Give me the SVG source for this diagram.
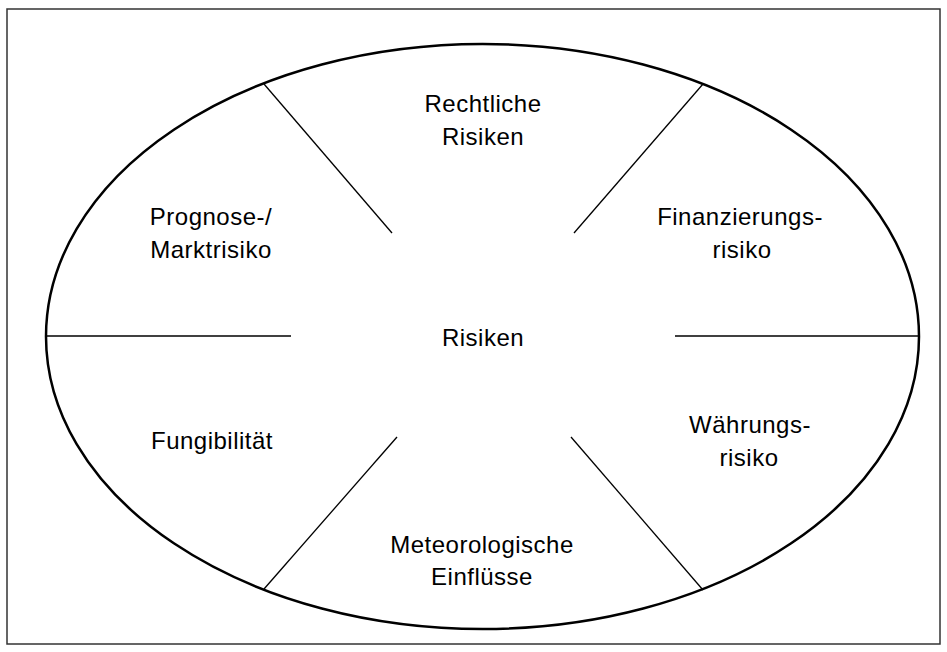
<svg xmlns="http://www.w3.org/2000/svg" width="947" height="652" viewBox="0 0 947 652">
<style>
.t{font-family:"Liberation Sans",Arial,sans-serif;font-size:24px;fill:#000;text-anchor:middle;letter-spacing:0.5px}
.c{stroke:#000;stroke-width:1.3;fill:none}
</style>
<rect x="0" y="0" width="947" height="652" fill="#fff"/>
<rect x="7" y="9" width="933" height="635" fill="none" stroke="#333" stroke-width="1.5"/>
<g id="ellipse"><ellipse cx="482.5" cy="336.5" rx="436.5" ry="292.5" fill="none" stroke="#000" stroke-width="2.5"/></g>
<g id="connectors">
<line class="c" x1="46" y1="336" x2="291" y2="336"/>
<line class="c" x1="675" y1="336" x2="919" y2="336"/>
<line class="c" x1="264" y1="84" x2="392" y2="233"/>
<line class="c" x1="703" y1="84" x2="574" y2="233"/>
<line class="c" x1="264" y1="589" x2="397" y2="437"/>
<line class="c" x1="703" y1="590" x2="571" y2="437"/>
</g>
<g id="center"><text class="t" x="483" y="346">Risiken</text></g>
<g id="rechtliche"><text class="t" x="483" y="112">Rechtliche</text><text class="t" x="483" y="145">Risiken</text></g>
<g id="prognose"><text class="t" x="211" y="225">Prognose-/</text><text class="t" x="211" y="258">Marktrisiko</text></g>
<g id="finanzierung"><text class="t" x="740" y="225">Finanzierungs-</text><text class="t" x="742" y="258">risiko</text></g>
<g id="fungibilitaet"><text class="t" x="212" y="449">Fungibilität</text></g>
<g id="waehrung"><text class="t" x="750" y="433">Währungs-</text><text class="t" x="749" y="466">risiko</text></g>
<g id="meteo"><text class="t" x="482" y="553">Meteorologische</text><text class="t" x="482" y="585">Einflüsse</text></g>
</svg>
